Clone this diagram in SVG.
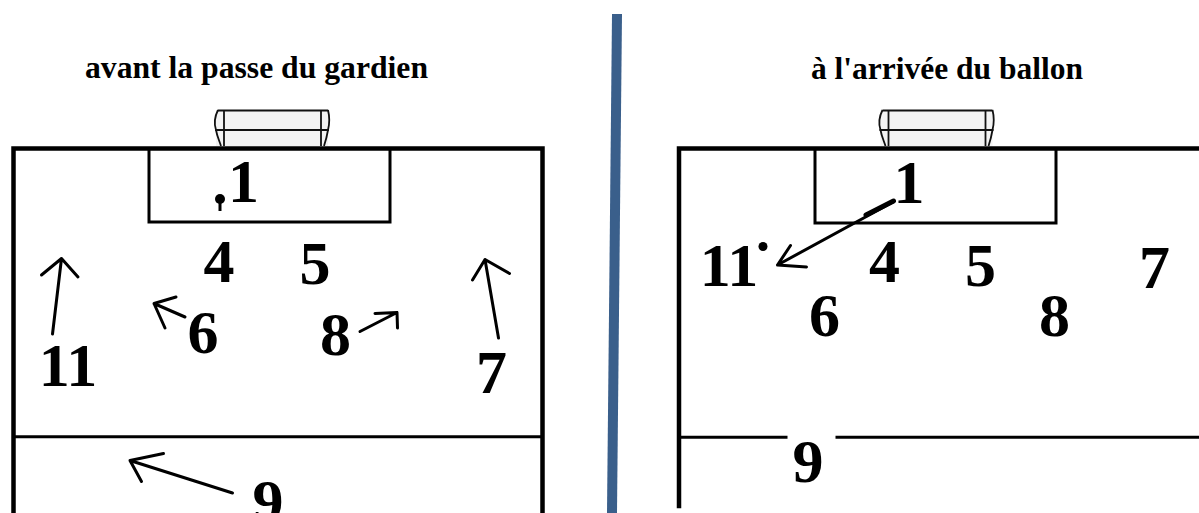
<svg xmlns="http://www.w3.org/2000/svg" xmlns:xlink="http://www.w3.org/1999/xlink" width="1199" height="513" viewBox="0 0 1199 513">
  <style>
    .title { font-family: "Liberation Serif", "Times New Roman", serif; font-weight: bold; font-size: 31px; fill: #000; text-anchor: middle; }
    .num { font-family: "Liberation Serif", "Times New Roman", serif; font-weight: bold; font-size: 62px; fill: #000; text-anchor: middle; }
    .field { fill: none; stroke: #000; stroke-linecap: square; }
    .arrow { fill: none; stroke: #000; stroke-width: 3; stroke-linecap: round; stroke-linejoin: round; }
    .goal-line { fill: none; stroke: #111; }
  </style>
  <defs>
    <g id="goal">
      <rect x="2" y="110" width="112" height="36" fill="#f3f3f3"/>
      <path class="goal-line" stroke-width="2" d="M 4 110.5 H 114"/>
      <path class="goal-line" stroke-width="2" d="M 1 130 H 115"/>
      <path class="goal-line" stroke-width="1.8" d="M 10 110 V 146 M 107 110 V 146"/>
      <path class="goal-line" stroke-width="1.8" d="M 4 110 C 1 116 0 124 2 130 C 3 136 5 140 7 146"/>
      <path class="goal-line" stroke-width="1.8" d="M 114 110 C 116 118 115 126 114 130 C 113 136 112 140 110 146"/>
    </g>
  </defs>
  <rect width="1199" height="513" fill="#fff"/>

  <!-- divider -->
  <g id="divider">
    <polygon points="612,14 622,14 617,513 607,513" fill="#3a5f8b"/>
  </g>

  <!-- titles -->
  <g id="title-left"><text class="title" x="256.5" y="78" textLength="343" lengthAdjust="spacingAndGlyphs">avant la passe du gardien</text></g>
  <g id="title-right"><text class="title" x="947" y="78.5" textLength="272" lengthAdjust="spacingAndGlyphs">à l'arrivée du ballon</text></g>

  <!-- left field -->
  <g id="field-left">
    <use xlink:href="#goal" x="214" y="0"/>
    <path class="field" stroke-width="4.5" d="M 13.5 513 V 148.5 H 542.5 V 513"/>
    <path class="field" stroke-width="3" d="M 149 148.5 V 222 H 390 V 148.5"/>
    <path class="field" stroke-width="3" d="M 14 436.8 H 542"/>
  </g>

  <!-- right field -->
  <g id="field-right">
    <use xlink:href="#goal" x="878.5" y="0"/>
    <path class="field" stroke-width="4.5" d="M 679 506 V 148.5 H 1199"/>
    <path class="field" stroke-width="3" d="M 815 148.5 V 223 H 1056 V 148.5"/>
    <path class="field" stroke-width="3" d="M 679 437.3 H 786"/>
    <path class="field" stroke-width="3" d="M 837 437.3 H 1199"/>
  </g>

  <!-- left players -->
  <g id="p1-left">
    <circle cx="220" cy="199" r="5" fill="#000"/>
    <path d="M 220 199 V 211" stroke="#000" stroke-width="3"/>
    <text class="num" x="243.5" y="202">1</text>
  </g>
  <g id="p4-left"><text class="num" x="219" y="282">4</text></g>
  <g id="p5-left"><text class="num" x="315" y="284">5</text></g>
  <g id="p6-left"><text class="num" x="203" y="353">6</text></g>
  <g id="p8-left"><text class="num" x="335.5" y="355">8</text></g>
  <g id="p11-left"><text class="num" x="68" y="386">11</text></g>
  <g id="p7-left"><text class="num" x="491.5" y="393">7</text></g>
  <g id="p9-left"><text class="num" x="268" y="522">9</text></g>

  <!-- right players -->
  <g id="p1-right"><text class="num" x="909" y="203">1</text></g>
  <g id="p11-right">
    <text class="num" x="729" y="286">11</text>
    <circle cx="763" cy="246.5" r="4.5" fill="#000"/>
  </g>
  <g id="p4-right"><text class="num" x="884.5" y="282">4</text></g>
  <g id="p5-right"><text class="num" x="980.5" y="286">5</text></g>
  <g id="p7-right"><text class="num" x="1154.5" y="288">7</text></g>
  <g id="p6-right"><text class="num" x="824.5" y="336">6</text></g>
  <g id="p8-right"><text class="num" x="1054.5" y="336">8</text></g>
  <g id="p9-right"><text class="num" x="808" y="481.5">9</text></g>

  <!-- connectors (movement arrows and pass) -->
  <g id="connectors">
    <path class="arrow" d="M 52.5 334 L 61.5 258.5 M 41.5 275 L 61.5 258.5 L 78 277"/>
    <path class="arrow" d="M 185 317 L 154 303.5 M 176 297 L 154 303.5 L 165 328"/>
    <path class="arrow" d="M 360 331.5 L 397 312.5 M 375 313.5 L 397 312.5 L 397.5 328"/>
    <path class="arrow" d="M 498.5 338 L 485 259.5 M 472.5 280 L 485 259.5 L 509.5 273.5"/>
    <path class="arrow" d="M 232.5 493 L 130 460.5 M 163.5 453.5 L 130 460.5 L 141.5 481.5"/>
    <path class="arrow" stroke-width="2.5" d="M 893 202 L 777.5 265 M 790.5 245.5 L 777.5 265 L 806.5 267"/>
    <path d="M 893.5 201 L 866 215" stroke="#000" stroke-width="5" stroke-linecap="round"/>
  </g>
</svg>
